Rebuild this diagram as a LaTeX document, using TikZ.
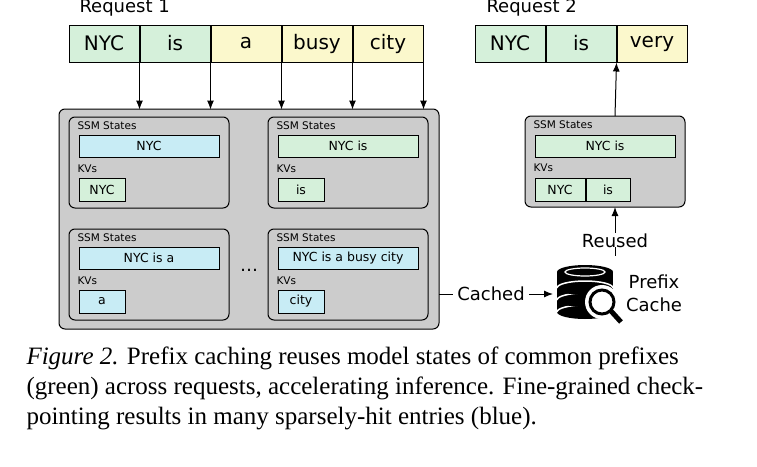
\documentclass[tikz,border=0pt]{standalone}
\usepackage{fontspec}
\setmainfont{Liberation Serif}
\newfontfamily\diagfont{DejaVu Sans}
\usetikzlibrary{arrows.meta, positioning}
\definecolor{tokgreen}{HTML}{D5F0DA}
\definecolor{tokyellow}{HTML}{FBF8CC}
\definecolor{tokblue}{HTML}{C8ECF5}
\definecolor{boxgray}{HTML}{CCCCCC}

\begin{document}
\begin{tikzpicture}[x=1pt,y=-1pt,>={Latex[length=9pt,width=7pt]},line width=1pt,
      token/.style={draw,minimum height=37pt,minimum width=70pt,inner sep=0pt,
        font=\diagfont\fontsize{20}{20}\selectfont},
      bar/.style={draw,minimum height=22pt,minimum width=140pt,inner sep=0pt,
        font=\diagfont\fontsize{12.5}{12.5}\selectfont},
      kv/.style={draw,minimum height=23pt,minimum width=46pt,inner sep=0pt,
        font=\diagfont\fontsize{12.5}{12.5}\selectfont},
      small/.style={font=\diagfont\fontsize{10.5}{10.5}\selectfont,inner sep=0pt,anchor=west},
      cell/.style={draw,rounded corners=6pt,fill=boxgray,line width=1pt},
      big/.style={font=\diagfont\fontsize{18}{18}\selectfont,inner sep=1pt}]
  \useasboundingbox (0,0) rectangle (757,466);
  % request 1
  \node[big,anchor=base west] (r1) at (78,12) {Request 1};
  \node[token,fill=tokgreen]  (t1) at (104,43.5) {NYC};
  \node[token,fill=tokgreen]  (t2) [right=0pt of t1] {is};
  \node[token,fill=tokyellow] (t3) [right=0pt of t2] {a};
  \node[token,fill=tokyellow] (t4) [right=0pt of t3] {busy};
  \node[token,fill=tokyellow] (t5) [right=0pt of t4] {city};
  % cache of request 1
  \draw[cell] (59,109) rectangle (439,329);
  \coordinate (bigE) at (439,294);
  \foreach \i in {1,...,5}
    \draw[->] (t\i.south east) -- ++(0,47);
  \foreach \x/\y/\ssm/\scol/\kvtxt/\kcol in {69/117/NYC/tokblue/NYC/tokgreen,
      268/117/NYC is/tokgreen/is/tokgreen,
      69/229/NYC is a/tokblue/a/tokblue,
      268/229/NYC is a busy city/tokblue/city/tokblue}{
    \draw[cell] (\x,\y) rectangle ++(160,91);
    \node[small] at (\x+8,\y+9) {SSM States};
    \node[bar,fill=\scol] at (\x+80,\y+29) {\ssm};
    \node[small] at (\x+8,\y+52) {KVs};
    \node[kv,fill=\kcol] at (\x+33,\y+72.5) {\kvtxt};
  }
  \node[big] (dots) at (249,270) {\dots};
  % request 2
  \node[big,anchor=base west] (r2) at (485,12) {Request 2};
  \node[token,fill=tokgreen]  (u1) at (510,43.5) {NYC};
  \node[token,fill=tokgreen]  (u2) [right=0pt of u1] {is};
  \node[token,fill=tokyellow] (u3) [right=0pt of u2] {very};
  \draw[cell] (525,116) rectangle (685,207);
  \node[small] at (533,125) {SSM States};
  \node[bar,fill=tokgreen] (s2) at (605,146) {NYC is};
  \node[small] at (533,168) {KVs};
  \node[kv,fill=tokgreen,minimum width=50pt] (k1) at (560,189.5) {NYC};
  \node[kv,fill=tokgreen,minimum width=44pt] (k2) [right=0pt of k1] {is};
  \coordinate (box2N) at (615,116);
  \coordinate (box2S) at (615,207);
  \draw[->] (box2N) -- (u2.south east);
  % prefix cache icon
  \begin{scope}[shift={(585,280)}]
    \foreach \yy in {24,12,0}{
      \fill[black] (-28,\yy-8) rectangle (28,\yy+8);
      \fill[black] (0,\yy+8) ellipse (28 and 7);
      \draw[white,line width=1.5pt] (-28,\yy+8) arc[start angle=180,end angle=360,x radius=28,y radius=7];
    }
    \fill[black] (0,-8) ellipse (28 and 7);
    \draw[white,line width=1.2pt] (0,-8) ellipse (20 and 4);
    \fill[white] (17,22) circle (17);
    \draw[black,line width=3pt] (17,22) circle (12);
    \draw[black,line width=5pt] (26,31) -- (36,42);
  \end{scope}
  \coordinate (cache) at (553,294);
  \node[big,anchor=center] (pre) at (654,282) {Prefix};
  \node[big,anchor=center] (cch) at (654,305) {Cache};
  \node[big,inner xsep=4pt] (cached) at (491,294) {Cached};
  \draw (bigE) -- (cached.west);
  \draw[->] (cached.east) -- (cache);
  \node[big] (reused) at (615,241) {Reused};
  \draw[->] (reused.north) -- (box2S);
  \draw ([yshift=2pt]reused.south) -- ++(0,9);
  % caption
  \node[anchor=north west,align=left,inner sep=0pt,font=\fontsize{25}{30}\selectfont] (cap) at (26,346)
    {\textit{Figure 2.} Prefix caching reuses model states of common prefixes\\
     (green) across requests, accelerating inference. Fine-grained check-\\
     pointing results in many sparsely-hit entries (blue).};
\end{tikzpicture}
\end{document}
